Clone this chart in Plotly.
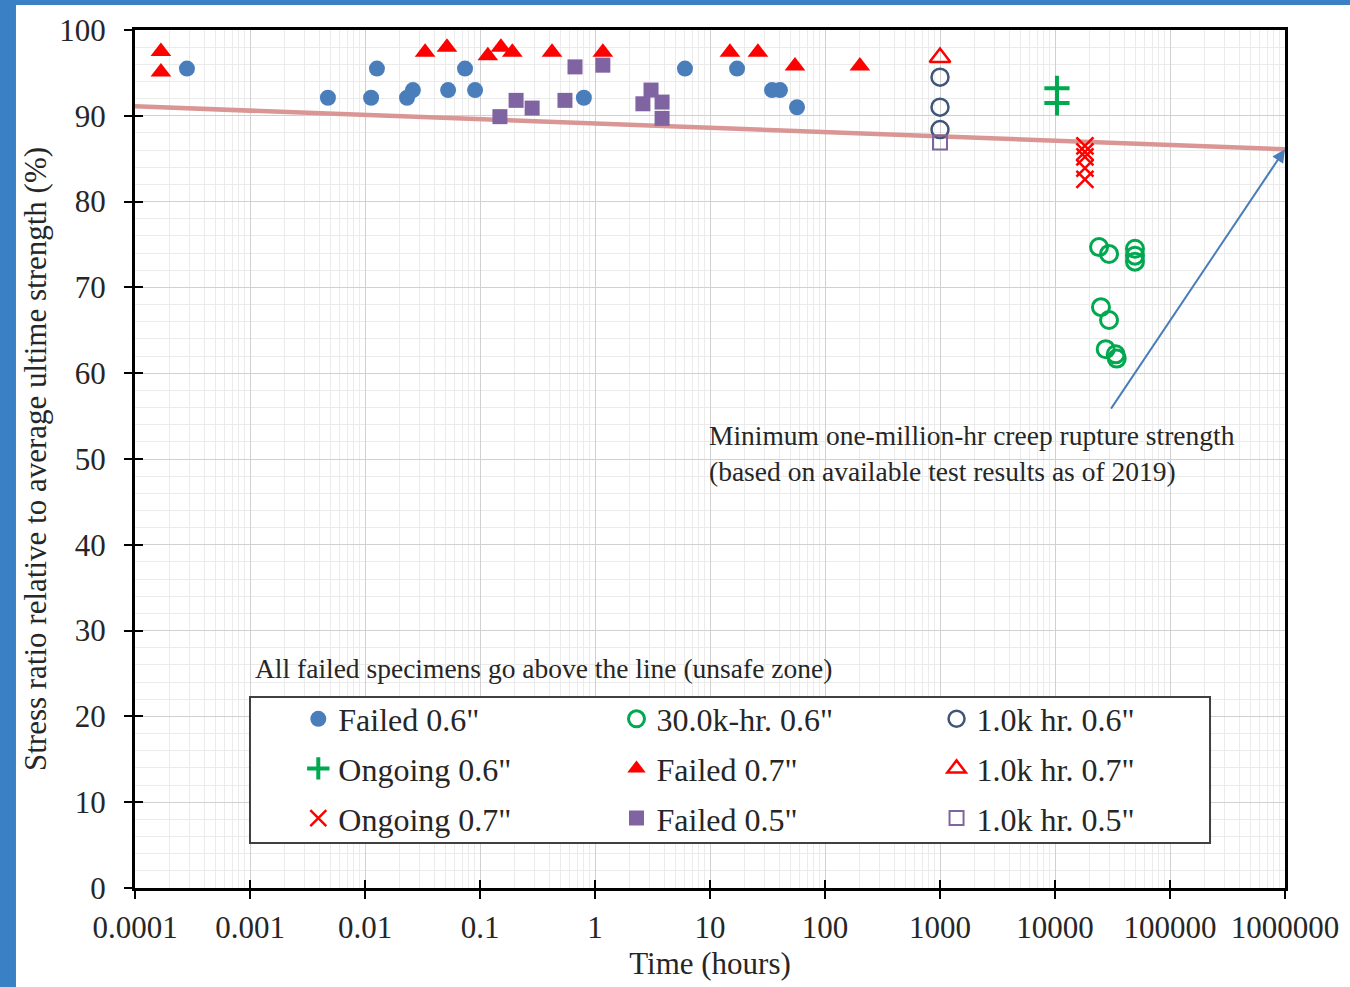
import math
import plotly.graph_objects as go

# ---------------- data ----------------
failed06_x = [2.83e-4, 0.00476, 0.0113, 0.0127, 0.0232, 0.0261, 0.0528, 0.0741, 0.0906, 0.80, 6.06, 17.2, 34.6, 40.6, 57.1]
failed06_y = [95.5, 92.1, 92.1, 95.5, 92.1, 93.0, 93.0, 95.5, 93.0, 92.1, 95.5, 95.5, 93.0, 93.0, 91.0]

k30_06_x = [24150, 29500, 49600, 49600, 49600, 25100, 29500, 27600, 33700, 34400]
k30_06_y = [74.7, 73.9, 74.5, 73.7, 73.0, 67.7, 66.2, 62.8, 62.2, 61.7]

k1_06_x = [1000, 1000, 1000]
k1_06_y = [94.5, 91.0, 88.4]

ongoing06_x = [10400, 10400]
ongoing06_y = [93.2, 91.5]

failed07_x = [1.68e-4, 1.68e-4, 0.0333, 0.0516, 0.117, 0.152, 0.191, 0.423, 1.17, 14.9, 26.1, 54.8, 201]
failed07_y = [97.5, 95.1, 97.4, 98.0, 97.0, 98.0, 97.4, 97.4, 97.4, 97.4, 97.4, 95.8, 95.8]

k1_07_x = [1000]
k1_07_y = [96.8]

ongoing07_x = [18200, 18200, 18200, 18200, 18200]
ongoing07_y = [86.5, 85.8, 85.2, 83.9, 82.6]

failed05_x = [0.149, 0.206, 0.284, 0.548, 0.67, 1.17, 2.61, 3.07, 3.83, 3.83]
failed05_y = [89.9, 91.8, 90.9, 91.8, 95.7, 95.9, 91.4, 93.0, 91.6, 89.7]

k1_05_x = [1000]
k1_05_y = [86.9]

limit_x = [1e-4, 1e6]
limit_y = [91.1, 86.1]

arrow_tail = (30100, 55.7)
arrow_head = (1e6, 86.1)

x_tickvals = [1e-4, 1e-3, 1e-2, 1e-1, 1, 10, 100, 1000, 10000, 100000, 1000000]
x_ticktext = ["0.0001", "0.001", "0.01", "0.1", "1", "10", "100", "1000", "10000", "100000", "1000000"]
y_tickvals = [0, 10, 20, 30, 40, 50, 60, 70, 80, 90, 100]

# ---------------- style ----------------
FONT = "Liberation Serif"
TXT = "#262626"
BLUE = "#4A7EBB"
GREEN = "#00A84F"
NAVY = "#3F5676"
RED = "#FF0000"
PURPLE = "#8064A2"

fig = go.Figure()

fig.add_trace(go.Scatter(x=limit_x, y=limit_y, mode="lines",
                         line=dict(color="#D99694", width=4.5), showlegend=False, hoverinfo="skip"))

def add(x, y, name, legend, symbol, color, size, lw=0):
    marker = dict(symbol=symbol, color=color, size=size, line=dict(width=lw, color=color))
    fig.add_trace(go.Scatter(x=x, y=y, mode="markers", name=name, legend=legend,
                             legendgroup=name, marker=marker))

# column 1
add(failed06_x, failed06_y, 'Failed 0.6"', "legend", "circle", BLUE, 16)
add(ongoing06_x, ongoing06_y, 'Ongoing 0.6"', "legend", "cross-thin", GREEN, 18, lw=4)
add(ongoing07_x, ongoing07_y, 'Ongoing 0.7"', "legend", "x-thin", RED, 17, lw=2.5)
# column 2
add(k30_06_x, k30_06_y, '30.0k-hr. 0.6"', "legend2", "circle-open", GREEN, 17, lw=3)
add(failed07_x, failed07_y, 'Failed 0.7"', "legend2", "triangle-up", RED, 18)
add(failed05_x, failed05_y, 'Failed 0.5"', "legend2", "square", PURPLE, 15)
# column 3
add(k1_06_x, k1_06_y, '1.0k hr. 0.6"', "legend3", "circle-open", NAVY, 17, lw=2.5)
add(k1_07_x, k1_07_y, '1.0k hr. 0.7"', "legend3", "triangle-up-open", RED, 18, lw=2.5)
add(k1_05_x, k1_05_y, '1.0k hr. 0.5"', "legend3", "square-open", PURPLE, 14, lw=2)

# helper trace for inner tick overlay axes
fig.add_trace(go.Scatter(x=[], y=[], xaxis="x2", yaxis="y2", showlegend=False, hoverinfo="skip"))

legend_common = dict(bgcolor="rgba(0,0,0,0)", borderwidth=0,
                     font=dict(family=FONT, size=32, color=TXT),
                     tracegroupgap=5, traceorder="grouped",
                     xanchor="left", yanchor="top", orientation="v")

axis_line = dict(showline=True, linecolor="black", linewidth=3, mirror=True)

fig.update_layout(
    width=1350, height=987,
    margin=dict(l=135, r=65, t=30, b=99),
    paper_bgcolor="white", plot_bgcolor="white",
    font=dict(family=FONT, color=TXT),
    legend=dict(x=0.142, y=0.229, **legend_common),
    legend2=dict(x=0.4187, y=0.229, **legend_common),
    legend3=dict(x=0.697, y=0.229, **legend_common),
    xaxis=dict(type="log", range=[-4, 6], tickvals=x_tickvals, ticktext=x_ticktext,
               ticks="outside", ticklen=8, tickwidth=2, tickcolor="black",
               tickfont=dict(family=FONT, size=31, color=TXT), ticklabelstandoff=2,
               showgrid=True, gridcolor="#D0D0D0", gridwidth=1,
               minor=dict(dtick="D1", showgrid=True, gridcolor="#EBEBEB", gridwidth=1, ticks=""),
               title=dict(text="Time (hours)", font=dict(family=FONT, size=31, color=TXT), standoff=9),
               zeroline=False, **axis_line),
    yaxis=dict(range=[0, 100], tickvals=y_tickvals,
               ticks="outside", ticklen=8, tickwidth=2, tickcolor="black",
               tickfont=dict(family=FONT, size=31, color=TXT), ticklabelstandoff=12,
               showgrid=True, gridcolor="#D0D0D0", gridwidth=1,
               minor=dict(dtick=2, showgrid=True, gridcolor="#EBEBEB", gridwidth=1, ticks=""),
               title=dict(text="Stress ratio relative to average ultime strength (%)",
                          font=dict(family=FONT, size=31, color=TXT), standoff=4),
               zeroline=False, **axis_line),
    xaxis2=dict(type="log", range=[-4, 6], overlaying="x", side="bottom", tickvals=x_tickvals,
                ticks="inside", ticklen=8, tickwidth=2, tickcolor="black",
                showticklabels=False, showgrid=False, showline=False, zeroline=False),
    yaxis2=dict(range=[0, 100], overlaying="y", side="left", anchor="x2", tickvals=y_tickvals,
                ticks="inside", ticklen=8, tickwidth=2, tickcolor="black",
                showticklabels=False, showgrid=False, showline=False, zeroline=False),
    shapes=[
        dict(type="rect", xref="paper", yref="paper", x0=0.1, x1=0.9348, y0=0.0524, y1=0.2226,
             line=dict(color="#404040", width=2), fillcolor="white", layer="above"),
        dict(type="rect", xref="paper", yref="paper", x0=-0.1174, x1=-0.1035, y0=-0.1154, y1=1.035,
             line=dict(width=0), fillcolor="#3A80C4", layer="above"),
        dict(type="rect", xref="paper", yref="paper", x0=-0.1174, x1=1.0565, y0=1.0291, y1=1.035,
             line=dict(width=0), fillcolor="#3A80C4", layer="above"),
    ],
    annotations=[
        dict(x=math.log10(arrow_head[0]), y=arrow_head[1], xref="x", yref="y",
             ax=math.log10(arrow_tail[0]), ay=arrow_tail[1], axref="x", ayref="y",
             showarrow=True, arrowhead=2, arrowsize=1.3, arrowwidth=2, arrowcolor=BLUE, text=""),
        dict(x=math.log10(9.4), y=50.6, xref="x", yref="y", xanchor="left", yanchor="middle",
             align="left", showarrow=False,
             text="Minimum one-million-hr creep rupture strength<br>(based on available test results as of 2019)",
             font=dict(family=FONT, size=27.5, color=TXT)),
        dict(x=math.log10(0.00106), y=25.6, xref="x", yref="y", xanchor="left", yanchor="middle",
             showarrow=False, text="All failed specimens go above the line (unsafe zone)",
             font=dict(family=FONT, size=27.5, color=TXT)),
    ],
)

fig.write_html("out.html", config={"displayModeBar": False},
               post_script="document.body.style.margin='0';document.body.style.overflow='hidden';")
